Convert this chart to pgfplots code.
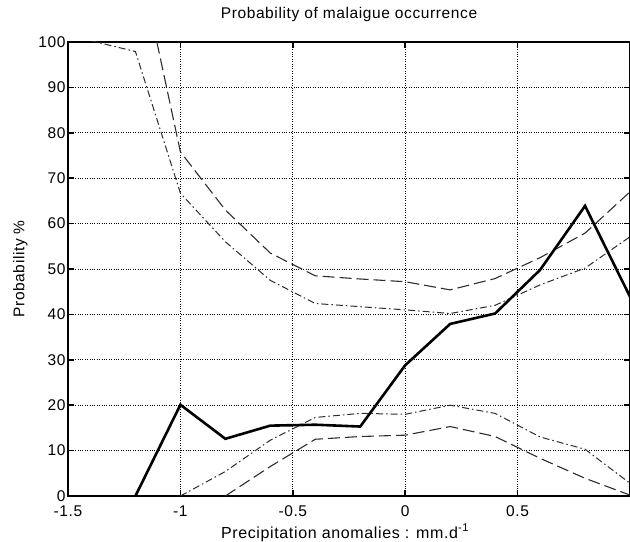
\documentclass[border=0pt]{standalone}
\usepackage{fontspec}
\setmainfont[LetterSpace=4]{Liberation Sans}
\usepackage{pgfplots}
\pgfplotsset{compat=1.18}
\definecolor{ln}{RGB}{45,45,45}
\begin{document}
\begin{tikzpicture}[x=1pt,y=1pt]
\begin{axis}[
  name=ax,
  scale only axis,
  width=562pt, height=454pt,
  xmin=-1.5, xmax=1, ymin=0, ymax=100,
  xtick={-1.5,-1,-0.5,0,0.5},
  xticklabels={-1.5,-1,-0.5,0,0.5},
  ytick={0,10,...,100},
  yticklabels={0,10,20,30,40,50,60,70,80,90,100},
  tick align=inside,
  major tick length=6pt,
  every tick/.style={black, line width=1.6pt},
  axis line style={line width=2.2pt},
  grid=major,
  grid style={black, dotted, line width=0.7pt},
  tick label style={font=\fontsize{15.5}{17}\selectfont},
  xticklabel style={anchor=base, yshift=-20pt},
  yticklabel style={anchor=east, xshift=1pt},
  title={\fontsize{15.5}{17}\selectfont Probability of malaigue occurrence},
  title style={at={(axis description cs:0.5,1)}, anchor=base, yshift=17.5pt},
  xlabel={\fontsize{16}{18}\selectfont Precipitation anomalies : mm.d\textsuperscript{-1}},
  xlabel style={at={(axis description cs:0.5,0)}, anchor=base, yshift=-42pt, xshift=-4pt},
  clip=true,
]
% dashed upper
\addplot[ln, line width=1.1pt, dash pattern=on 12pt off 5pt] coordinates {
(-1.2,122) (-1.0,75.8) (-0.8,63) (-0.6,53.5) (-0.4,48.5) (-0.2,47.8) (0,47.2) (0.2,45.4) (0.4,47.9) (0.6,52.5) (0.8,57.9) (1.0,67)};
% dash-dot upper
\addplot[ln, line width=1pt, dash pattern=on 7pt off 3pt on 1.5pt off 3pt] coordinates {
(-1.4,100.3) (-1.2,97.9) (-1.0,66.7) (-0.8,56) (-0.6,47.5) (-0.4,42.4) (-0.2,41.7) (0,41) (0.2,40.2) (0.4,42) (0.6,46.5) (0.8,50.2) (1.0,57.1)};
% dash-dot lower
\addplot[ln, line width=1pt, dash pattern=on 7pt off 3pt on 1.5pt off 3pt] coordinates {
(-1.0,0) (-0.8,5.4) (-0.6,12.3) (-0.4,17.3) (-0.2,18.2) (0,18) (0.2,20) (0.4,18.2) (0.6,13) (0.8,10.3) (1.0,2.8)};
% dashed lower
\addplot[ln, line width=1.1pt, dash pattern=on 12pt off 5pt] coordinates {
(-0.8,0) (-0.6,6.5) (-0.4,12.5) (-0.2,13.1) (0,13.4) (0.2,15.3) (0.4,13.1) (0.6,8.3) (0.8,3.9) (1.0,0.2)};
% solid
\addplot[black, line width=2.6pt, line join=miter] coordinates {
(-1.2,0) (-1.0,20.1) (-0.8,12.6) (-0.6,15.5) (-0.4,15.7) (-0.2,15.3) (0,28.8) (0.2,37.9) (0.4,40.2) (0.6,49.8) (0.8,63.9) (1.0,43.9)};
\end{axis}
\node[rotate=90, anchor=base, font=\fontsize{15.5}{17}\selectfont] at ([xshift=-43.5pt]ax.west) {Probability \%};
\pgfresetboundingbox
\path ([xshift=-68pt,yshift=-45pt]ax.south west) rectangle ([yshift=42pt]ax.north east);
\end{tikzpicture}
\end{document}
